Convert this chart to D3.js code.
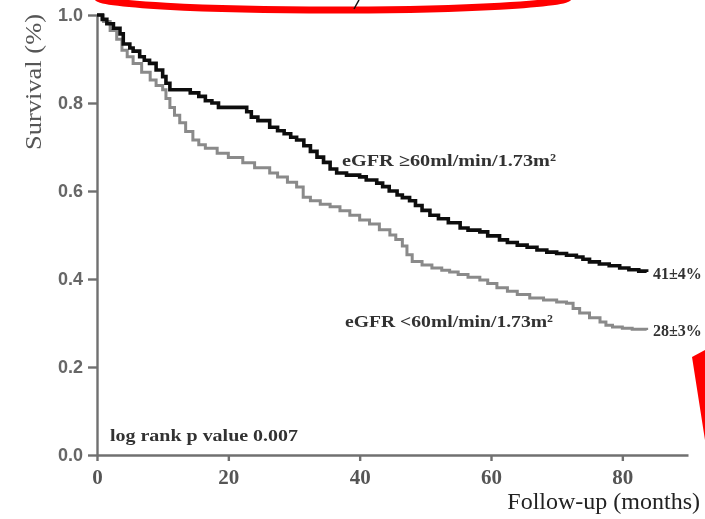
<!DOCTYPE html>
<html>
<head>
<meta charset="utf-8">
<script src="https://cdn.jsdelivr.net/npm/d3@7"></script>
<style>
    body { margin: 0; background: #fff; }
    svg { display: block; }
</style>
</head>
<body>
<svg id="kmChart" width="705" height="519"></svg>
<script>
// survival data (months, cumulative survival)
var highMonths = [0, 0.8, 1.5, 2.5, 3.5, 4, 5, 5.5, 6.5, 7.2, 8, 9, 10, 10.5, 11.1, 13, 14.2, 15.5, 16.5, 17.5, 18.5,
    22, 22.8, 23.5, 24.5, 26.3, 27.5, 28.5, 29.5, 30.4, 31.5, 32.5, 33.5, 34.5, 35.5, 36.5, 38, 40, 41, 42.6,
    43.5, 44.5, 45.7, 46.5, 47.6, 48.5, 49.5, 50.7, 52, 53.5, 55.3, 56.5, 58.3, 59.5, 61.3, 62.5, 64, 65.5,
    67, 68.5, 70, 71.5, 73, 74, 75, 76.5, 78, 79.6, 81, 82.5, 83.7];
var highSurvival = [1.0, 0.99, 0.98, 0.97, 0.957, 0.934, 0.925, 0.918, 0.905, 0.897, 0.89, 0.875, 0.86, 0.845, 0.83, 0.83, 0.823, 0.815, 0.805, 0.8, 0.79,
    0.79, 0.78, 0.768, 0.76, 0.745, 0.737, 0.73, 0.722, 0.716, 0.703, 0.69, 0.677, 0.665, 0.65, 0.641, 0.636, 0.632, 0.625, 0.618,
    0.61, 0.6, 0.591, 0.585, 0.578, 0.567, 0.556, 0.545, 0.537, 0.528, 0.516, 0.511, 0.507, 0.498, 0.489, 0.483, 0.477, 0.472,
    0.466, 0.461, 0.458, 0.454, 0.45, 0.445, 0.439, 0.434, 0.43, 0.425, 0.421, 0.418, 0.416];

var lowMonths = [0, 1, 2, 3, 3.8, 4.6, 5.5, 6.8, 8.1, 9, 10, 10.5, 11.1, 11.8, 12.6, 13.5, 14.6, 15.5, 16.5, 18.3, 20, 22.2,
    24, 26.3, 27.5, 29, 30.4, 31.4, 32.5, 34, 35.5, 37, 38.5, 40, 41.5, 43, 44.6, 45.5, 46.5, 47.2, 48, 49.5, 51,
    52.5, 53.7, 55, 56.5, 58.3, 59.5, 60.9, 62.5, 64, 65.9, 68, 70, 71.5, 72.5, 73.5, 75, 76.6, 77.5, 78.5, 80, 81.5, 83.7];
var lowSurvival = [1.0, 0.985, 0.965, 0.945, 0.92, 0.905, 0.89, 0.87, 0.852, 0.84, 0.83, 0.81, 0.79, 0.772, 0.755, 0.735, 0.716, 0.705, 0.697, 0.686, 0.676, 0.664,
    0.653, 0.641, 0.632, 0.62, 0.609, 0.586, 0.578, 0.57, 0.564, 0.555, 0.545, 0.534, 0.525, 0.512, 0.5, 0.49, 0.475, 0.455, 0.44, 0.432, 0.425,
    0.42, 0.416, 0.41, 0.404, 0.398, 0.39, 0.38, 0.372, 0.365, 0.357, 0.352, 0.348, 0.345, 0.333, 0.323, 0.312, 0.302, 0.295, 0.291, 0.288, 0.286, 0.284];

var xTicks = [0, 20, 40, 60, 80];
var yTicks = [0.0, 0.2, 0.4, 0.6, 0.8, 1.0];
var groupLabels = ["eGFR \u226560ml/min/1.73m\u00b2", "eGFR <60ml/min/1.73m\u00b2"];
var endLabels = ["41\u00b14%", "28\u00b13%"];
var pValueText = "log rank p value 0.007";

var svg = d3.select("#kmChart");

var x = d3.scaleLinear().domain([0, 90]).range([97, 688]);
var y = d3.scaleLinear().domain([0, 1]).range([455, 15]);

// slight blur so the lines look like the scanned figure
svg.append("defs").append("filter")
    .attr("id", "soft")
    .append("feGaussianBlur")
    .attr("stdDeviation", 0.6);

var chart = svg.append("g").attr("filter", "url(#soft)");

// axes
var xAxis = chart.append("g")
    .attr("class", "axis")
    .attr("transform", "translate(0," + y(0) + ")")
    .call(d3.axisBottom(x).tickValues(xTicks).tickSize(6).tickSizeOuter(0).tickFormat(d3.format("d")));

xAxis.selectAll("text")
    .attr("y", 14)
    .style("font-family", "'Liberation Serif', serif")
    .style("font-size", "21px")
    .style("font-weight", "bold")
    .style("fill", "#555");

var yAxis = chart.append("g")
    .attr("class", "axis")
    .attr("transform", "translate(" + x(0) + ",0)")
    .call(d3.axisLeft(y).tickValues(yTicks).tickSize(9).tickSizeOuter(0).tickFormat(d3.format(".1f")));

yAxis.selectAll("text")
    .attr("x", -14)
    .style("font-family", "'Liberation Sans', Arial, sans-serif")
    .style("font-size", "18px")
    .style("font-weight", "bold")
    .style("fill", "#666");

chart.selectAll(".axis path, .axis line")
    .attr("stroke", "#707070")
    .attr("stroke-width", 2.4);

// axis titles
chart.append("text")
    .attr("transform", "translate(41,82) rotate(-90)")
    .attr("text-anchor", "middle")
    .attr("textLength", 136)
    .attr("lengthAdjust", "spacingAndGlyphs")
    .style("font-family", "'Liberation Serif', serif")
    .style("font-size", "24px")
    .style("fill", "#555")
    .text("Survival (%)");

chart.append("text")
    .attr("x", 700)
    .attr("y", 509)
    .attr("text-anchor", "end")
    .style("font-family", "'Liberation Serif', serif")
    .style("font-size", "24px")
    .style("fill", "#222")
    .text("Follow-up (months)");

// step curves
function toRows(months, surv) {
    return months.map(function (m, i) { return {m: m, s: surv[i]}; });
}

var line = d3.line()
    .x(function (d) { return x(d.m); })
    .y(function (d) { return y(d.s); })
    .curve(d3.curveStepAfter);

chart.append("path")
    .datum(toRows(lowMonths, lowSurvival))
    .attr("d", line)
    .attr("fill", "none")
    .attr("stroke", "#8a8a8a")
    .attr("stroke-width", 3);

chart.append("path")
    .datum(toRows(highMonths, highSurvival))
    .attr("d", line)
    .attr("fill", "none")
    .attr("stroke", "#111")
    .attr("stroke-width", 3.6);

// annotations
var labelFont = "'Liberation Serif', serif";

function addLabel(px, py, txt, len, size) {
    var t = chart.append("text")
        .attr("x", px).attr("y", py)
        .style("font-family", labelFont)
        .style("font-size", size + "px")
        .style("font-weight", "bold")
        .style("fill", "#333")
        .text(txt);
    if (len) {
        t.attr("textLength", len).attr("lengthAdjust", "spacingAndGlyphs");
    }
    return t;
}

addLabel(342, 166, groupLabels[0], 214, 17);
addLabel(345, 327, groupLabels[1], 208, 17);
addLabel(653, 279, endLabels[0], 0, 16);
addLabel(653, 336, endLabels[1], 0, 16);
addLabel(110, 441, pValueText, 188, 16);

// red marks drawn over the scan
svg.append("ellipse")
    .attr("cx", 333).attr("cy", -3)
    .attr("rx", 236).attr("ry", 13)
    .attr("fill", "none")
    .attr("stroke", "#ff0000")
    .attr("stroke-width", 7);

svg.append("line")
    .attr("x1", 359).attr("y1", 0)
    .attr("x2", 354).attr("y2", 9)
    .attr("stroke", "#111")
    .attr("stroke-width", 1.5);

svg.append("polygon")
    .attr("points", "692,357 705,350 705,440")
    .attr("fill", "#ff0000");
</script>
</body>
</html>
